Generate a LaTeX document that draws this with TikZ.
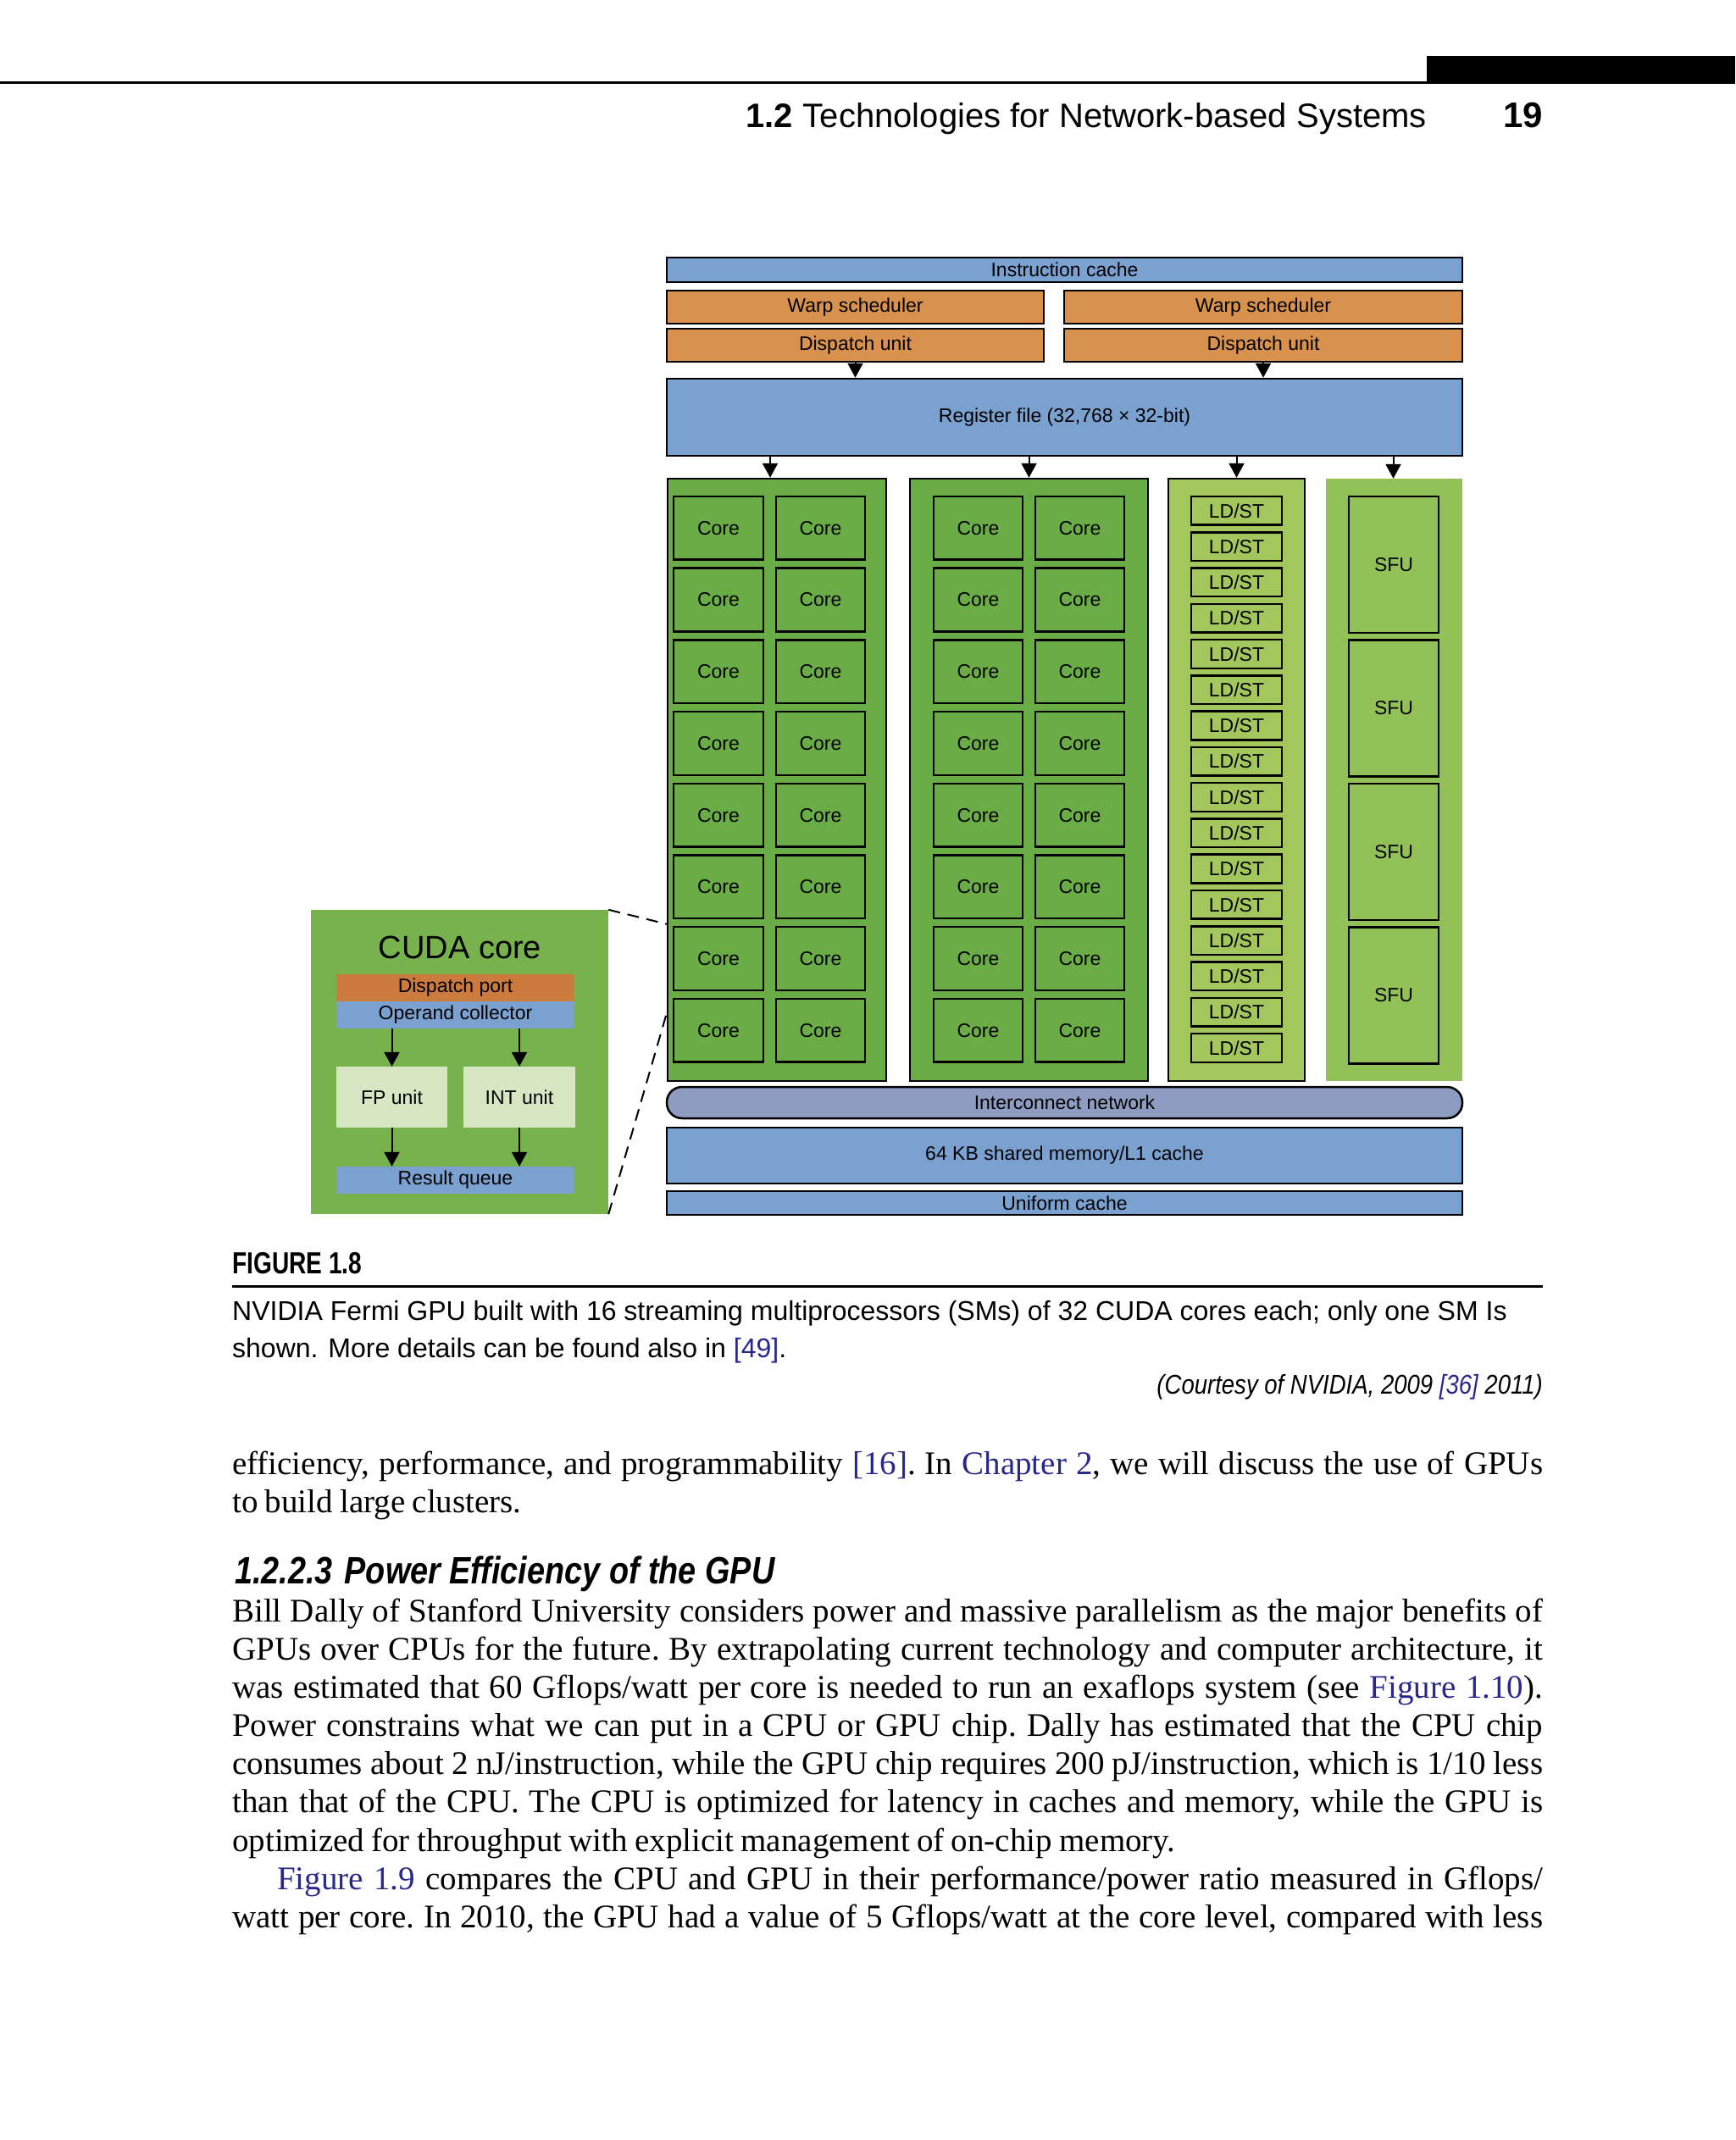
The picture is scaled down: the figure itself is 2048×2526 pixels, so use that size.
\documentclass[tikz,border=0pt]{standalone}
\usepackage{fontspec}
\setmainfont[FakeStretch=1.0,WordSpace={0.85,1.3,1.8}]{Liberation Serif}
\newfontfamily\lsans{Liberation Sans}
\newfontfamily\lsanscond[FakeStretch=0.78]{Liberation Sans}
\newfontfamily\lsansital[FakeStretch=0.86]{Liberation Sans}
\newfontfamily\lsanshead[FakeStretch=0.84]{Liberation Sans}
\usetikzlibrary{arrows.meta}
\definecolor{bB}{RGB}{123,161,208}
\definecolor{oW}{RGB}{216,146,78}
\definecolor{gC}{RGB}{106,173,71}
\definecolor{gL}{RGB}{163,199,92}
\definecolor{gS}{RGB}{146,193,88}
\definecolor{gI}{RGB}{142,156,194}
\definecolor{gP}{RGB}{120,178,76}
\definecolor{oD}{RGB}{205,122,62}
\definecolor{gF}{RGB}{215,231,196}
\definecolor{lnk}{RGB}{40,40,140}
\newcommand\lbl{\lsans\fontsize{23}{27}\selectfont}
\newcommand\lk[1]{\textcolor{lnk}{#1}}
\newcommand\bodyf{\fontsize{39}{45}\selectfont\frenchspacing}
\newcommand\capf{\lsans\fontsize{32}{40}\selectfont}
\newcommand\bx[7]{\node[#6, minimum width={(#4-#2)*1pt}, minimum height={(#5-#3)*1pt}] (#1) at ({(#2+#4)/2},{(#3+#5)/2}) {#7};}
\begin{document}
\begin{tikzpicture}[x=1pt,y=-1pt,
  box/.style={draw=black, line width=2.5pt, inner sep=0pt, font=\lbl},
  nob/.style={inner sep=0pt, font=\lbl},
  arr/.style={line width=2pt, -{Triangle[width=18pt,length=17pt]}},
  txt/.style={inner sep=0pt, anchor=base west},
  callout/.style={line width=2pt, dash pattern=on 14pt off 9pt}]
\fill[white] (0,0) rectangle (2048,2526);
\useasboundingbox (0,0) rectangle (2048,2526);
% header
\draw[line width=3pt] (0,98) -- (2048,98);
\fill[black] (1684,66) rectangle (2048,99);
\node[inner sep=0pt, anchor=base east, font=\lsans\fontsize{40}{44}\selectfont] (hd) at (1684,151) {\textbf{1.2}\hspace{12pt}Technologies for Network-based Systems};
\node[inner sep=0pt, anchor=base east, font=\lsans\fontsize{42}{44}\selectfont\bfseries] (pg) at (1821,151) {19};
% top blocks
\bx{ic}{787}{304}{1726}{333}{box,fill=bB}{Instruction cache}
\bx{ws1}{787}{343}{1232}{382}{box,fill=oW}{Warp scheduler}
\bx{ws2}{1256}{343}{1726}{382}{box,fill=oW}{Warp scheduler}
\bx{du1}{787}{388}{1232}{427}{box,fill=oW}{Dispatch unit}
\bx{du2}{1256}{388}{1726}{427}{box,fill=oW}{Dispatch unit}
\bx{rf}{787}{447}{1726}{538}{box,fill=bB}{Register file (32,768 × 32-bit)}
\draw[arr] (du1.south) -- (du1.south |- rf.north);
\draw[arr] (du2.south) -- (du2.south |- rf.north);
% columns
\bx{col1}{788}{565}{1046}{1276}{box,fill=gC}{}
\bx{col2}{1074}{565}{1355}{1276}{box,fill=gC}{}
\bx{col3}{1379}{565}{1540}{1276}{box,fill=gL}{}
\bx{col4}{1565}{565}{1726}{1276}{nob,fill=gS}{}
\draw[arr] ([xshift=-8pt]col1.north |- rf.south) -- ([xshift=-8pt]col1.north);
\draw[arr] (col2.north |- rf.south) -- (col2.north);
\draw[arr] (col3.north |- rf.south) -- (col3.north);
\draw[arr] ([xshift=-1pt]col4.north |- rf.south) -- ([xshift=-1pt]col4.north);
\foreach \r in {0,...,7}{
  \pgfmathsetmacro\t{586+84.7*\r}
  \pgfmathsetmacro\b{\t+74.7}
  \bx{ca\r}{795}{\t}{901}{\b}{box,fill=gC}{Core}
  \bx{cb\r}{916}{\t}{1021}{\b}{box,fill=gC}{Core}
  \bx{cc\r}{1102}{\t}{1207}{\b}{box,fill=gC}{Core}
  \bx{cd\r}{1222}{\t}{1327}{\b}{box,fill=gC}{Core}
}
\foreach \r in {0,...,15}{
  \pgfmathsetmacro\t{586+42.27*\r}
  \pgfmathsetmacro\b{\t+33.7}
  \bx{ls\r}{1406}{\t}{1513}{\b}{box,fill=gL}{LD/ST}
}
\foreach \r in {0,...,3}{
  \pgfmathsetmacro\t{586+169.5*\r}
  \pgfmathsetmacro\b{\t+161}
  \bx{sfu\r}{1592}{\t}{1698}{\b}{box,fill=gS}{SFU}
}
\bx{icn}{787}{1283}{1726}{1320}{box,fill=gI,rounded corners=18pt}{Interconnect network}
\bx{smem}{787}{1331}{1726}{1397}{box,fill=bB}{64 KB shared memory/L1 cache}
\bx{uc}{787}{1406}{1726}{1434}{box,fill=bB}{Uniform cache}
% CUDA core panel
\bx{cuda}{367}{1074}{718}{1433}{nob,fill=gP}{}
\node[inner sep=0pt, font=\lsans\fontsize{38}{40}\selectfont] (ct) at (543,1118) {CUDA core};
\bx{dp}{397}{1150}{678}{1182}{nob,fill=oD}{Dispatch port}
\bx{oc}{397}{1182}{678}{1214}{nob,fill=bB}{Operand collector}
\bx{fp}{397}{1259}{528}{1331}{nob,fill=gF}{FP unit}
\bx{iu}{547}{1259}{679}{1331}{nob,fill=gF}{INT unit}
\bx{rq}{397}{1377}{678}{1409}{nob,fill=bB}{Result queue}
\draw[arr] (fp.north |- oc.south) -- (fp.north);
\draw[arr] (iu.north |- oc.south) -- (iu.north);
\draw[arr] (fp.south) -- (fp.south |- rq.north);
\draw[arr] (iu.south) -- (iu.south |- rq.north);
\coordinate (zt) at (788,1091);
\coordinate (zb) at (788,1192);
\draw[callout] (cuda.north east) -- (zt);
\draw[callout] (cuda.south east) -- (zb);
% caption
\node[txt, font=\lsanscond\bfseries\fontsize{36}{40}\selectfont] (fig) at (274,1503) {FIGURE 1.8};
\draw[line width=3pt] (274,1518) -- (1821,1518);
\node[txt, font=\capf] (cap1) at (274,1558) {NVIDIA Fermi GPU built with 16 streaming multiprocessors (SMs) of 32 CUDA cores each; only one SM Is};
\node[txt, font=\capf] (cap2) at (274,1602) {shown. More details can be found also in \lk{[49]}.};
\node[inner sep=0pt, anchor=base east, font=\lsansital\fontsize{32}{40}\selectfont\itshape] (court) at (1821,1645) {(Courtesy of NVIDIA, 2009 \lk{[36]} 2011)};
% body
\node[txt, font=\bodyf] (l1) at (274,1740) {\makebox[1547pt][s]{efficiency, performance, and programmability \lk{[16]}. In \lk{Chapter 2}, we will discuss the use of GPUs}};
\node[txt, font=\bodyf] (l2) at (274,1785) {to build large clusters.};
\node[txt, font=\lsanshead\bfseries\itshape\fontsize{45}{48}\selectfont] (h) at (277,1869) {1.2.2.3\hspace{14pt}Power Efficiency of the GPU};
\node[txt, font=\bodyf] (l3) at (274,1914) {\makebox[1547pt][s]{Bill Dally of Stanford University considers power and massive parallelism as the major benefits of}};
\node[txt, font=\bodyf] (l4) at (274,1959) {\makebox[1547pt][s]{GPUs over CPUs for the future. By extrapolating current technology and computer architecture, it}};
\node[txt, font=\bodyf] (l5) at (274,2004) {\makebox[1547pt][s]{was estimated that 60 Gflops/watt per core is needed to run an exaflops system (see \lk{Figure 1.10}).}};
\node[txt, font=\bodyf] (l6) at (274,2049) {\makebox[1547pt][s]{Power constrains what we can put in a CPU or GPU chip. Dally has estimated that the CPU chip}};
\node[txt, font=\bodyf] (l7) at (274,2094) {\makebox[1547pt][s]{consumes about 2 nJ/instruction, while the GPU chip requires 200 pJ/instruction, which is 1/10 less}};
\node[txt, font=\bodyf] (l8) at (274,2139) {\makebox[1547pt][s]{than that of the CPU. The CPU is optimized for latency in caches and memory, while the GPU is}};
\node[txt, font=\bodyf] (l9) at (274,2185) {optimized for throughput with explicit management of on-chip memory.};
\node[txt, font=\bodyf] (l10) at (327,2230) {\makebox[1494pt][s]{\lk{Figure 1.9} compares the CPU and GPU in their performance/power ratio measured in Gflops/}};
\node[txt, font=\bodyf] (l11) at (274,2275) {\makebox[1547pt][s]{watt per core. In 2010, the GPU had a value of 5 Gflops/watt at the core level, compared with less}};
\end{tikzpicture}
\end{document}
